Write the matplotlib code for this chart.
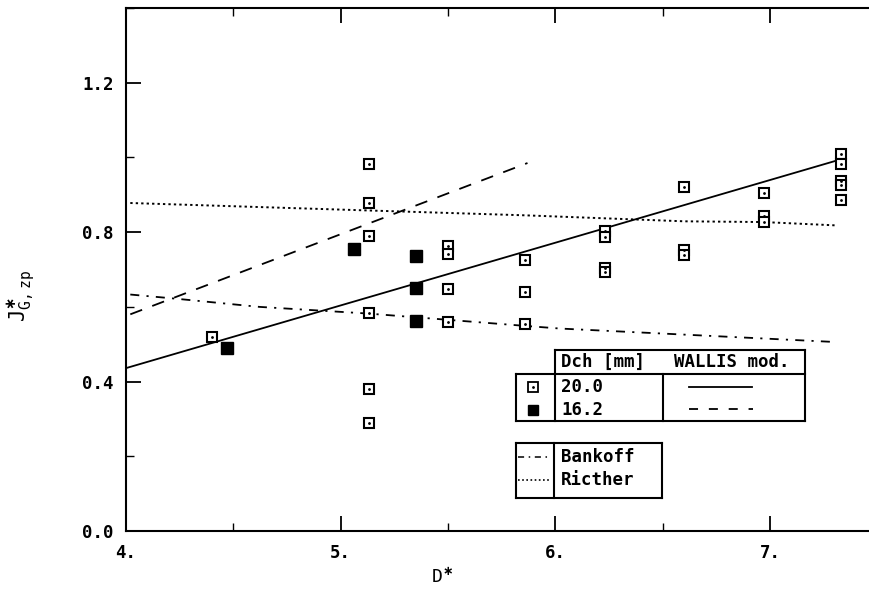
import matplotlib
matplotlib.use("Agg")
import matplotlib.pyplot as plt
from matplotlib.lines import Line2D
from matplotlib.ticker import MultipleLocator
import numpy as np

# measured points, Dch = 20.0 mm (open squares)
x_20 = [4.40, 5.13, 5.13, 5.13, 5.13, 5.13, 5.13,
        5.50, 5.50, 5.50, 5.50,
        5.86, 5.86, 5.86,
        6.23, 6.23, 6.23, 6.23,
        6.60, 6.60, 6.60,
        6.97, 6.97, 6.97,
        7.33, 7.33, 7.33, 7.33, 7.33]
y_20 = [0.518, 0.983, 0.878, 0.790, 0.583, 0.380, 0.288,
        0.762, 0.742, 0.649, 0.559,
        0.726, 0.639, 0.553,
        0.802, 0.786, 0.705, 0.693,
        0.922, 0.753, 0.738,
        0.904, 0.842, 0.827,
        1.009, 0.983, 0.938, 0.927, 0.886]

# measured points, Dch = 16.2 mm (filled squares)
x_16 = [4.47, 5.06, 5.35, 5.35, 5.35]
y_16 = [0.490, 0.755, 0.736, 0.650, 0.563]

# WALLIS mod. correlations
wallis20_x = [4.0, 7.33]
wallis20_y = [0.436, 0.995]
wallis16_x = [4.02, 5.87]
wallis16_y = [0.580, 0.985]

# Bankoff and Richter curves
bank_x = [4.02, 4.23, 4.62, 5.13, 5.86, 6.02, 7.30]
bank_y = [0.633, 0.622, 0.600, 0.582, 0.549, 0.542, 0.506]
rich_x = [4.02, 5.13, 5.86, 6.60, 6.97, 7.31]
rich_y = [0.878, 0.858, 0.845, 0.829, 0.827, 0.818]

xticks = [4, 5, 6, 7]
xticklabels = ['4.', '5.', '6.', '7.']
yticks = [0.0, 0.4, 0.8, 1.2]
yticklabels = ['0.0', '0.4', '0.8', '1.2']

W, H = 869, 593
mono = 'DejaVu Sans Mono'
plt.rcParams['font.family'] = mono
plt.rcParams['font.weight'] = 'bold'

fig = plt.figure(figsize=(W / 100, H / 100), dpi=100)
ax = fig.add_axes([126 / W, (H - 531) / H, 742 / W, 523 / H])

ax.set_xlim(4.0, 7.456)
ax.set_ylim(0.0, 1.4)

lw = 1.3
ax.plot(wallis20_x, wallis20_y, color='black', lw=lw, ls='-')
ax.plot(wallis16_x, wallis16_y, color='black', lw=lw, ls=(0, (7, 6)))
ax.plot(bank_x, bank_y, color='black', lw=lw, ls=(0, (5, 4, 1.2, 4)))
ax.plot(rich_x, rich_y, color='black', lw=1.4, ls=(0, (1.2, 1.6)))

ax.plot(x_20, y_20, ls='none', marker='s', ms=7.5, mfc='white', mec='black', mew=1.5, zorder=3)
ax.plot(x_20, y_20, ls='none', marker='.', ms=2, color='black', zorder=4)
ax.plot(x_16, y_16, ls='none', marker='s', ms=8, mfc='black', mec='black', zorder=3)

ax.set_xticks(xticks)
ax.set_xticklabels(xticklabels)
ax.set_yticks(yticks)
ax.set_yticklabels(yticklabels)
ax.xaxis.set_minor_locator(MultipleLocator(0.5))
ax.yaxis.set_minor_locator(MultipleLocator(0.2))
ax.tick_params(which='major', direction='in', length=11, width=1.3,
               top=True, right=False, labelsize=12.5, pad=9)
ax.tick_params(which='minor', direction='in', length=6, width=1.0,
               top=True, right=False)
ax.spines['right'].set_visible(False)
for s in ['left', 'bottom', 'top']:
    ax.spines[s].set_linewidth(1.5)

ax.set_ylabel(r'J$^{\ast}_{\mathregular{G,zp}}$', fontsize=15)
ax.yaxis.set_label_coords(-0.12, 0.45)
ax.set_xlabel(r'D$^{\ast}$', fontsize=13)
ax.xaxis.set_label_coords(0.426, -0.07)


# legend tables, drawn in pixel positions
def px(x, y):
    return x / W, 1 - y / H


def seg(x0, y0, x1, y1, **kw):
    a = px(x0, y0)
    b = px(x1, y1)
    fig.add_artist(Line2D([a[0], b[0]], [a[1], b[1]], transform=fig.transFigure,
                          color='black', **kw))


def txt(x, y, s):
    p = px(x, y)
    fig.text(p[0], p[1], s, fontsize=12.5, fontweight='bold', family=mono,
             ha='left', va='center')


blw = 1.5
# table 1
seg(555, 350, 805, 350, lw=blw)
seg(555, 350, 555, 421, lw=blw)
seg(805, 350, 805, 421, lw=blw)
seg(516, 374, 805, 374, lw=blw)
seg(516, 374, 516, 421, lw=blw)
seg(516, 421, 805, 421, lw=blw)
seg(663, 374, 663, 421, lw=blw)
txt(561, 362, 'Dch [mm]')
txt(674, 362, 'WALLIS mod.')
txt(561, 387, '20.0')
txt(561, 410, '16.2')
p = px(533, 387)
fig.add_artist(Line2D([p[0]], [p[1]], transform=fig.transFigure, ls='none', marker='s',
                      ms=6.5, mfc='white', mec='black', mew=1.3))
fig.add_artist(Line2D([p[0]], [p[1]], transform=fig.transFigure, ls='none', marker='.',
                      ms=2, color='black'))
p = px(533, 410)
fig.add_artist(Line2D([p[0]], [p[1]], transform=fig.transFigure, ls='none', marker='s',
                      ms=7, mfc='black', mec='black'))
seg(689, 387, 752, 387, lw=lw)
seg(689, 409, 753, 409, lw=lw, ls=(0, (5, 6)))

# table 2
seg(516, 443, 662, 443, lw=blw)
seg(516, 498, 662, 498, lw=blw)
seg(516, 443, 516, 498, lw=blw)
seg(662, 443, 662, 498, lw=blw)
seg(554, 443, 554, 498, lw=blw)
txt(561, 457, 'Bankoff')
txt(561, 480, 'Ricther')
seg(518, 457, 551, 457, lw=1.1, ls=(0, (4, 3, 1, 3)))
seg(518, 480, 551, 480, lw=1.2, ls=(0, (1, 1.5)))

fig.savefig('out.png', dpi=100)
